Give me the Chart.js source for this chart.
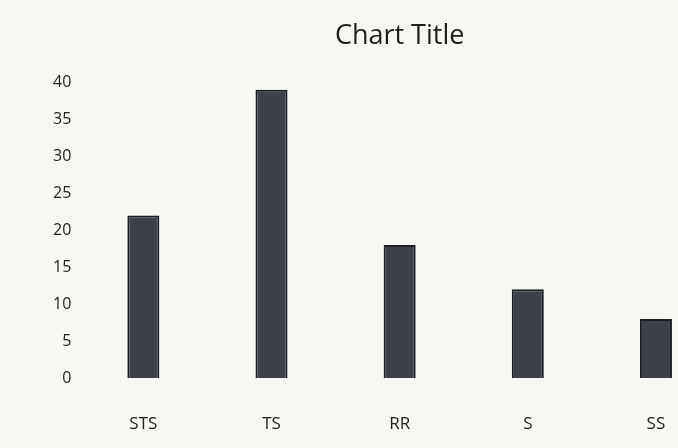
<!DOCTYPE html>
<html>
<head>
<meta charset="utf-8">
<script src="https://cdn.jsdelivr.net/npm/chart.js@4"></script>
<style>
    html, body { margin: 0; padding: 0; background: #f6f6f3; }
    #wrap { width: 678px; height: 448px; overflow: hidden; }
    #box { width: 720px; height: 448px; }
</style>
</head>
<body>
<div id="wrap"><div id="box"><canvas id="myChart"></canvas></div></div>
<script>
// Data
const categories = ["STS", "TS", "RR", "S", "SS"];
const counts = [22, 39, 18, 12, 8];
const yTicks = [0, 5, 10, 15, 20, 25, 30, 35, 40];

const ctx = document.querySelector("#myChart");

let surveyChart = new Chart(ctx, {
    type: 'bar',
    data: {
        labels: categories,
        datasets: [
            {
                label: 'Series 1',
                data: counts,
                backgroundColor: '#3c414a',
                borderColor: '#1c1f24',
                borderWidth: 2,
                barPercentage: 0.25,
                categoryPercentage: 1,
            },
        ]
    },
    options: {
        animation: false,
        maintainAspectRatio: false,
        responsive: true,
        layout: {
            padding: { left: 45, right: 0, top: 0, bottom: 0 }
        },
        plugins: {
            legend: { display: false },
            tooltip: { enabled: false },
            title: {
                display: true,
                text: 'Chart Title',
                fullSize: false,
                color: '#1e1e1e',
                font: { family: 'Open Sans', size: 27, weight: 'normal' },
                padding: { top: 20, bottom: 30 }
            }
        },
        scales: {
            x: {
                grid: { display: false, drawTicks: false },
                border: { display: false },
                // keep the labels well below the bars, as in the photo
                afterFit: axis => { axis.height = 70; },
                ticks: {
                    color: '#1e1e1e',
                    padding: 36,
                    font: { family: 'Open Sans', size: 17 }
                }
            },
            y: {
                min: 0,
                max: 40,
                grid: { display: false, drawTicks: false },
                border: { display: false },
                afterBuildTicks: axis => {
                    axis.ticks = yTicks.map(v => ({ value: v }));
                },
                ticks: {
                    color: '#1e1e1e',
                    padding: 8,
                    font: { family: 'Open Sans', size: 16 }
                }
            }
        }
    }
});
</script>
</body>
</html>
